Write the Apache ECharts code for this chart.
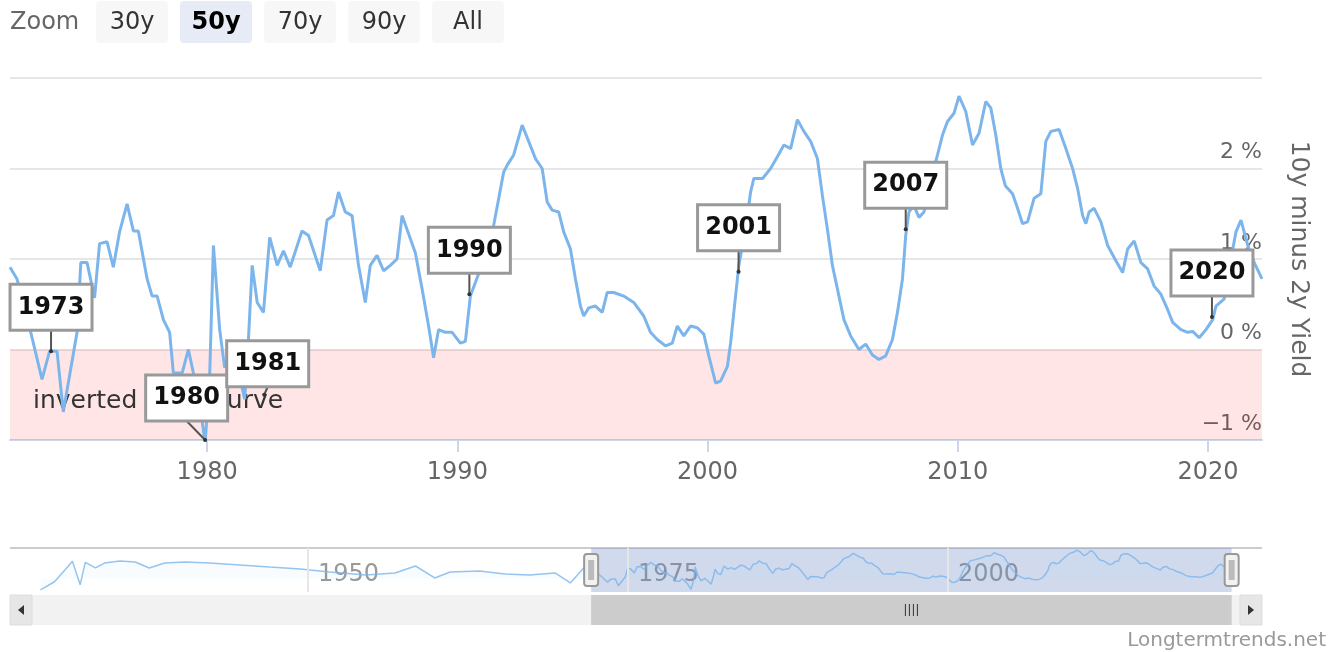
<!DOCTYPE html>
<html>
<head>
<meta charset="utf-8">
<script src="https://cdn.jsdelivr.net/npm/echarts@6/dist/echarts.min.js"></script>
<style>
html, body { margin: 0; padding: 0; background: #fff; }
#main { width: 1338px; height: 652px; }
</style>
</head>
<body>
<div id="main"></div>
<script>
// 10y minus 2y spread (decimal years, percent)
const dates = [
  1972.12, 1972.4, 1972.7, 1972.95, 1973.4, 1973.7, 1974.0, 1974.25, 1974.8, 1974.95,
  1975.2, 1975.5, 1975.7, 1976.0, 1976.25, 1976.5, 1976.8, 1977.05, 1977.25, 1977.6,
  1977.8, 1978.0, 1978.25, 1978.5, 1978.65, 1979.0, 1979.25, 1979.45, 1979.7, 1979.92,
  1980.1, 1980.25, 1980.5, 1980.7, 1981.0, 1981.3, 1981.5, 1981.65, 1981.8, 1982.0,
  1982.25, 1982.5, 1982.8, 1983.05, 1983.32, 1983.79, 1984.05, 1984.52, 1984.79, 1985.05,
  1985.25, 1985.52, 1985.79, 1986.05, 1986.32, 1986.52, 1986.79, 1987.05, 1987.32, 1987.59,
  1987.79, 1988.05, 1988.32, 1988.59, 1988.85, 1989.05, 1989.25, 1989.52, 1989.79, 1990.12,
  1990.32, 1990.52, 1990.92, 1991.45, 1991.85, 1992.0, 1992.25, 1992.59, 1992.85, 1993.12,
  1993.39, 1993.59, 1993.79, 1994.05, 1994.25, 1994.52, 1994.72, 1994.92, 1995.05, 1995.25,
  1995.52, 1995.79, 1995.99, 1996.25, 1996.65, 1997.05, 1997.45, 1997.72, 1997.99, 1998.32,
  1998.59, 1998.79, 1999.05, 1999.32, 1999.59, 1999.85, 2000.05, 2000.32, 2000.52, 2000.79,
  2000.92, 2001.05, 2001.25, 2001.52, 2001.72, 2001.85, 2002.2, 2002.52, 2002.79, 2003.05,
  2003.32, 2003.59, 2003.85, 2004.12, 2004.39, 2004.59, 2004.79, 2004.99, 2005.19, 2005.45,
  2005.72, 2006.05, 2006.32, 2006.59, 2006.85, 2007.12, 2007.39, 2007.59, 2007.79, 2007.92,
  2008.05, 2008.25, 2008.45, 2008.65, 2008.9, 2009.19, 2009.39, 2009.59, 2009.85, 2010.05,
  2010.32, 2010.59, 2010.85, 2011.12, 2011.32, 2011.52, 2011.72, 2011.9, 2012.19, 2012.39,
  2012.59, 2012.79, 2013.05, 2013.32, 2013.52, 2013.72, 2014.05, 2014.32, 2014.59, 2014.79,
  2014.99, 2015.12, 2015.25, 2015.45, 2015.72, 2015.99, 2016.32, 2016.59, 2016.79, 2017.05,
  2017.32, 2017.59, 2017.85, 2018.12, 2018.39, 2018.59, 2018.92, 2019.19, 2019.39, 2019.65,
  2019.92, 2020.19, 2020.32, 2020.65, 2020.92, 2021.12, 2021.32, 2021.59, 2021.85, 2022.16
];
const spread = [
  0.91, 0.78, 0.45, 0.19, -0.33, -0.02, -0.02, -0.69, 0.19, 0.96,
  0.96, 0.57, 1.17, 1.19, 0.91, 1.30, 1.61, 1.31, 1.31, 0.78,
  0.59, 0.59, 0.33, 0.19, -0.26, -0.26, 0.0, -0.26, -0.6, -1.03,
  -0.3, 1.15, 0.22, -0.2, 0.03, -0.3, -0.55, 0.11, 0.93, 0.52,
  0.41, 1.24, 0.93, 1.09, 0.91, 1.31, 1.26, 0.87, 1.43, 1.48,
  1.74, 1.52, 1.48, 0.93, 0.52, 0.93, 1.04, 0.87, 0.93, 1.0,
  1.48, 1.28, 1.07, 0.67, 0.26, -0.09, 0.22, 0.19, 0.19, 0.07,
  0.09, 0.59, 0.89, 1.37, 1.96, 2.04, 2.15, 2.48, 2.30, 2.11,
  2.0, 1.63, 1.54, 1.52, 1.30, 1.11, 0.78, 0.48, 0.37, 0.46,
  0.48, 0.41, 0.63, 0.63, 0.59, 0.52, 0.37, 0.19, 0.11, 0.04,
  0.07, 0.26, 0.15, 0.26, 0.24, 0.17, -0.07, -0.37, -0.35, -0.19,
  0.07, 0.41, 0.93, 1.33, 1.74, 1.89, 1.89, 2.0, 2.13, 2.26,
  2.22, 2.54, 2.41, 2.30, 2.11, 1.70, 1.33, 0.93, 0.67, 0.33,
  0.15, 0.0, 0.06, -0.06, -0.11, -0.07, 0.11, 0.41, 0.78, 1.26,
  1.52, 1.59, 1.46, 1.52, 1.85, 2.15, 2.37, 2.52, 2.61, 2.80,
  2.63, 2.26, 2.39, 2.74, 2.67, 2.37, 2.0, 1.81, 1.72, 1.56,
  1.39, 1.41, 1.67, 1.72, 2.30, 2.41, 2.43, 2.22, 2.0, 1.78,
  1.48, 1.39, 1.52, 1.56, 1.41, 1.15, 0.98, 0.85, 1.11, 1.20,
  0.96, 0.89, 0.70, 0.61, 0.44, 0.30, 0.22, 0.19, 0.20, 0.13,
  0.22, 0.33, 0.48, 0.56, 1.0, 1.30, 1.43, 1.15, 0.96, 0.78
];

// older history shown only in the navigator
const navDates = [
  1929.1, 1930.2, 1931.6, 1932.2, 1932.6, 1933.4, 1934.1, 1935.3, 1936.5, 1937.6,
  1938.8, 1940.4, 1942.3, 1944.7, 1947.0, 1949.4, 1951.7, 1954.5, 1956.8, 1958.4,
  1959.9, 1961.1, 1963.4, 1965.4, 1967.3, 1969.3, 1970.5, 1971.6
];
const navSpread = [
  -1.1, -0.3, 1.7, -0.6, 1.6, 1.05, 1.53, 1.73, 1.63, 1.05,
  1.53, 1.63, 1.53, 1.34, 1.14, 0.95, 0.65, 0.36, 0.56, 1.24,
  0.07, 0.65, 0.75, 0.46, 0.36, 0.56, -0.42, 1.14
];

// recession flags
const flagDates = [1973.76, 1979.92, 1982.28, 1990.48, 2001.24, 2007.92, 2020.16];
const flagValues = [-0.02, -1.0, -0.5, 0.61, 0.86, 1.33, 0.36];
const flagLabels = ['1973', '1980', '1981', '1990', '2001', '2007', '2020'];

const xTicks = [1980, 1990, 2000, 2010, 2020];
const navTicks = [1950, 1975, 2000];
const zoomButtons = ['30y', '50y', '70y', '90y', 'All'];
const selectedButton = '50y';
const viewStart = 1972.12;
const viewEnd = 2022.16;
const navStart = 1926.72;
const navEnd = 2024.53;

const font = 'DejaVu Sans';
// box shift / stem length for flags that were pushed aside
const flagShift = { '1980': [-18.5, 19], '1981': [3.5, 8] };

function renderFlag(params, api) {
  const p = api.coord([api.value(0), api.value(1)]);
  const lab = flagLabels[params.dataIndex];
  const off = flagShift[lab] || [0, 21];
  const cx = p[0] + off[0];
  const bottom = p[1] - off[1];
  const w = 82, h = 46;
  return {
    type: 'group',
    children: [
      { type: 'line', shape: { x1: p[0], y1: p[1], x2: cx, y2: bottom }, style: { stroke: '#555', lineWidth: 2 } },
      { type: 'circle', shape: { cx: p[0], cy: p[1], r: 2 }, style: { fill: '#333' } },
      { type: 'rect', shape: { x: cx - w / 2, y: bottom - h, width: w, height: h }, style: { fill: '#fff', stroke: '#999', lineWidth: 3 } },
      { type: 'text', x: cx, y: bottom - h / 2, style: { text: lab, fill: '#111', font: 'bold 24px ' + font, align: 'center', verticalAlign: 'middle', textAlign: 'center', textVerticalAlign: 'middle' } }
    ]
  };
}

let chart = echarts.init(document.getElementById('main'));

let option = {
  animation: false,
  textStyle: { fontFamily: font },
  grid: [
    { left: 10, right: 76, top: 78, height: 362 },
    { left: 10, right: 76, top: 548, height: 44 }
  ],
  xAxis: [
    {
      type: 'value', gridIndex: 0, min: viewStart, max: viewEnd,
      axisLine: { onZero: false, lineStyle: { color: '#ccd6eb', width: 2 } },
      axisTick: { show: true, customValues: xTicks, length: 12, lineStyle: { color: '#ccd6eb', width: 2 } },
      axisLabel: { customValues: xTicks, color: '#666', fontSize: 24, margin: 21, formatter: v => String(v) },
      splitLine: { show: false }
    },
    {
      type: 'value', gridIndex: 1, min: navStart, max: navEnd,
      axisLine: { show: false, onZero: false },
      axisTick: { show: false, customValues: navTicks },
      splitLine: { show: false },
      axisLabel: {
        inside: true, customValues: navTicks, color: '#999', fontSize: 24, align: 'left', margin: 5, padding: [0, 0, 0, 10],
        formatter: v => String(v)
      }
    }
  ],
  yAxis: [
    {
      type: 'value', gridIndex: 0, position: 'right', min: -1, max: 3, interval: 1,
      name: '10y minus 2y Yield', nameLocation: 'middle', nameRotate: -90, nameGap: 24,
      nameTextStyle: { color: '#666', fontSize: 25 },
      axisLine: { show: false },
      axisTick: { show: false },
      splitLine: { lineStyle: { color: '#e6e6e6', width: 2 } },
      axisLabel: {
        inside: true, margin: 0, verticalAlign: 'bottom', padding: [0, 0, 5, 0], color: '#666', fontSize: 22,
        formatter: v => v === 3 ? '' : (v < 0 ? '\u2212' + Math.abs(v) : v) + ' %'
      }
    },
    { type: 'value', gridIndex: 1, min: -1.3, max: 3, show: false }
  ],
  series: [
    {
      type: 'line', name: '10y minus 2y', xAxisIndex: 0, yAxisIndex: 0,
      data: dates.map((d, i) => [d, spread[i]]),
      showSymbol: false, z: 3,
      lineStyle: { color: '#7cb5ec', width: 3 },
      itemStyle: { color: '#7cb5ec' },
      markArea: {
        silent: true,
        itemStyle: { color: 'rgba(255,0,0,0.1)' },
        label: { show: true, position: 'insideLeft', color: '#333', fontSize: 25, offset: [18, 7] },
        data: [[{ yAxis: 0, name: 'inverted yield curve' }, { yAxis: -1 }]]
      }
    },
    {
      type: 'custom', xAxisIndex: 0, yAxisIndex: 0, z: 10, clip: false,
      data: flagDates.map((d, i) => [d, flagValues[i]]),
      renderItem: renderFlag
    },
    {
      type: 'line', xAxisIndex: 1, yAxisIndex: 1, silent: true,
      data: navDates.concat(dates).map((d, i) => [d, navSpread.concat(spread)[i]]),
      showSymbol: false,
      lineStyle: { color: '#7cb5ec', width: 1.5, opacity: 0.8 },
      areaStyle: { color: 'rgba(124,181,236,0.06)' },
      markLine: {
        silent: true, symbol: 'none', label: { show: false },
        lineStyle: { color: '#e6e6e6', width: 2, type: 'solid' },
        data: navTicks.map(v => ({ xAxis: v }))
      },
      markArea: {
        silent: true,
        itemStyle: { color: 'rgba(102,133,194,0.3)' },
        data: [[{ xAxis: viewStart }, { xAxis: viewEnd }]]
      }
    }
  ]
};

chart.setOption(option);

// range selector, navigator handles, scrollbar, credits
const x0 = chart.convertToPixel({ xAxisIndex: 1 }, viewStart);
const x1 = chart.convertToPixel({ xAxisIndex: 1 }, viewEnd);
const g = [];

g.push({ type: 'text', x: 10, y: 23, style: { text: 'Zoom', fill: '#666', font: '24px ' + font, verticalAlign: 'middle', textVerticalAlign: 'middle' } });
zoomButtons.forEach((b, i) => {
  const x = 96 + i * 84;
  const sel = b === selectedButton;
  g.push({ type: 'rect', shape: { x: x, y: 1, width: 72, height: 42, r: 4 }, style: { fill: sel ? '#e6ebf5' : '#f7f7f7' } });
  g.push({ type: 'text', x: x + 36, y: 23, style: { text: b, fill: sel ? '#000' : '#333', font: (sel ? 'bold ' : '') + '24px ' + font, align: 'center', textAlign: 'center', verticalAlign: 'middle', textVerticalAlign: 'middle' } });
});

// navigator outline
g.push({ type: 'line', shape: { x1: 10, y1: 548, x2: 1262, y2: 548 }, style: { stroke: '#ccc', lineWidth: 2 } });

// handles
[x0, x1].forEach(x => {
  g.push({ type: 'rect', z: 20, shape: { x: x - 7, y: 554, width: 14, height: 32, r: 3 }, style: { fill: '#f2f2f2', stroke: '#999', lineWidth: 2 } });
  g.push({ type: 'rect', z: 21, shape: { x: x - 3, y: 560, width: 6, height: 20 }, style: { fill: '#bbb' } });
});

// scrollbar
g.push({ type: 'rect', shape: { x: 10, y: 595, width: 1252, height: 30 }, style: { fill: '#f2f2f2' } });
g.push({ type: 'rect', shape: { x: x0, y: 595, width: x1 - x0, height: 30 }, style: { fill: '#cccccc' } });
g.push({ type: 'rect', shape: { x: 10, y: 595, width: 22, height: 30 }, style: { fill: '#e6e6e6', stroke: '#ddd', lineWidth: 1 } });
g.push({ type: 'rect', shape: { x: 1240, y: 595, width: 22, height: 30 }, style: { fill: '#e6e6e6', stroke: '#ddd', lineWidth: 1 } });
g.push({ type: 'polygon', shape: { points: [[24, 605], [24, 615], [18, 610]] }, style: { fill: '#333' } });
g.push({ type: 'polygon', shape: { points: [[1248, 605], [1248, 615], [1254, 610]] }, style: { fill: '#333' } });
const mid = (x0 + x1) / 2;
[-6, -2, 2, 6].forEach(d => {
  g.push({ type: 'line', shape: { x1: mid + d, y1: 604, x2: mid + d, y2: 616 }, style: { stroke: '#333', lineWidth: 1 } });
});

// credits
g.push({ type: 'text', x: 1326, y: 641, style: { text: 'Longtermtrends.net', fill: '#999', font: '20px ' + font, align: 'right', textAlign: 'right', verticalAlign: 'middle', textVerticalAlign: 'middle' } });

chart.setOption({ graphic: g });
</script>
</body>
</html>
